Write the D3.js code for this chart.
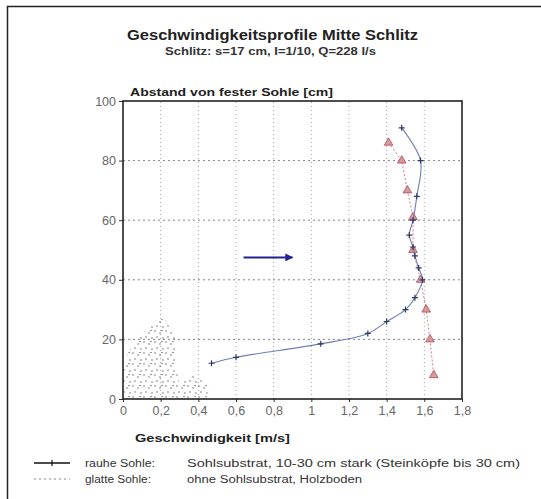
<!DOCTYPE html>
<html>
<head>
<meta charset="utf-8">
<script src="https://cdn.jsdelivr.net/npm/d3@7"></script>
<style>
  html, body { margin: 0; padding: 0; background: #fff; }
  svg { display: block; font-family: "Liberation Sans", Arial, sans-serif; }
</style>
</head>
<body>
<svg id="chart" width="541" height="499"></svg>
<script>
// Messwerte rauhe Sohle: [v in m/s, Abstand in cm]
const rauheV = [0.47, 0.60, 1.05, 1.30, 1.40, 1.50, 1.55, 1.59, 1.57, 1.55, 1.54, 1.52, 1.54, 1.56, 1.58, 1.48];
const rauheH = [12, 14, 18.5, 22, 26, 30, 34, 40, 44, 48, 51, 55, 60, 68, 80, 91];

// Messwerte glatte Sohle
const glattV = [1.41, 1.48, 1.51, 1.54, 1.54, 1.58, 1.61, 1.63, 1.65];
const glattH = [86, 80, 70, 61, 50, 40, 30, 20, 8];

// Steinköpfe (Umriss des Sohlsubstrats)
const stoneV = [0, 0, 0.03, 0.10, 0.20, 0.25, 0.28, 0.28, 0.30, 0.36, 0.42, 0.46, 0.44];
const stoneH = [0, 10, 16, 22, 28, 25, 20, 12, 5, 8, 7, 4, 0];

// Fliessrichtung (Pfeil)
const arrowV = [0.64, 0.90];
const arrowH = 47.5;

const xTicks = [0, 0.2, 0.4, 0.6, 0.8, 1, 1.2, 1.4, 1.6, 1.8];
const yTicks = [0, 20, 40, 60, 80, 100];

const svg = d3.select('#chart');

// helper: text stretched to the width it has in the scan
function label(g, px, py, str, size, width, opts = {}) {
  const t = g.append('text').attr('x', px).attr('y', py)
    .attr('font-size', size).attr('fill', opts.fill || '#222')
    .attr('textLength', width).attr('lengthAdjust', 'spacingAndGlyphs')
    .text(str);
  if (opts.bold) t.attr('font-weight', 'bold');
  if (opts.anchor) t.attr('text-anchor', opts.anchor);
  return t;
}

// outer frame (left + top visible)
svg.append('path')
  .attr('d', 'M7.5,499 V6.5 H541')
  .attr('fill', 'none').attr('stroke', '#222').attr('stroke-width', 1.5);

const x = d3.scaleLinear().domain([0, 1.8]).range([123, 462]);
const y = d3.scaleLinear().domain([0, 100]).range([399, 101]);

const defs = svg.append('defs');
const pat = defs.append('pattern')
  .attr('id', 'stipple').attr('patternUnits', 'userSpaceOnUse')
  .attr('width', 11).attr('height', 11);
[[1, 1], [6, 3], [3, 7], [9, 8], [8, 0.5]].forEach(([px, py]) => {
  pat.append('circle').attr('cx', px).attr('cy', py).attr('r', 0.75).attr('fill', '#666');
});
defs.append('marker')
  .attr('id', 'head').attr('viewBox', '0 0 10 10')
  .attr('refX', 9).attr('refY', 5)
  .attr('markerWidth', 4).attr('markerHeight', 4)
  .attr('orient', 'auto')
  .append('path').attr('d', 'M0,0 L10,5 L0,10 z').attr('fill', '#23238f');

// titles
label(svg, 127, 40, 'Geschwindigkeitsprofile Mitte Schlitz', 14, 291, { bold: true });
label(svg, 165, 55, 'Schlitz: s=17 cm, I=1/10, Q=228 l/s', 10.5, 211, { bold: true, fill: '#333' });
label(svg, 130, 96, 'Abstand von fester Sohle [cm]', 10.5, 203, { bold: true });
label(svg, 135, 442, 'Geschwindigkeit [m/s]', 10.5, 155, { bold: true });

// grid
const grid = svg.append('g');
grid.selectAll('line.vg').data(xTicks.slice(1, -1)).join('line')
  .attr('x1', d => x(d)).attr('x2', d => x(d))
  .attr('y1', y(0)).attr('y2', y(100))
  .attr('stroke', '#888').attr('stroke-width', 0.8).attr('stroke-dasharray', '1,3');
grid.selectAll('line.hg').data(yTicks.slice(1, -1)).join('line')
  .attr('x1', x(0)).attr('x2', x(1.8))
  .attr('y1', d => y(d)).attr('y2', d => y(d))
  .attr('stroke', '#777').attr('stroke-width', 0.9).attr('stroke-dasharray', '2,3');

// stones
const stonePts = stoneV.map((v, i) => [x(v), y(stoneH[i])]);
svg.append('path')
  .attr('d', d3.line().curve(d3.curveLinearClosed)(stonePts))
  .attr('fill', 'url(#stipple)').attr('stroke', 'none');

// axes
const fmt = d => String(d).replace('.', ',');
const xAxis = svg.append('g').attr('transform', `translate(0,${y(0)})`)
  .call(d3.axisBottom(x).tickValues(xTicks).tickFormat(fmt).tickSize(3).tickPadding(4));
const yAxis = svg.append('g').attr('transform', `translate(${x(0)},0)`)
  .call(d3.axisLeft(y).tickValues(yTicks).tickSize(4).tickPadding(3));
[xAxis, yAxis].forEach(a => {
  a.select('.domain').remove();
  a.selectAll('text').attr('font-size', 12.5).attr('fill', '#666')
    .attr('font-family', '"Liberation Sans Narrow", "Liberation Sans", Arial, sans-serif');
  a.selectAll('line').attr('stroke', '#333');
});

svg.append('rect')
  .attr('x', x(0)).attr('y', y(100))
  .attr('width', x(1.8) - x(0)).attr('height', y(0) - y(100))
  .attr('fill', 'none').attr('stroke', '#222').attr('stroke-width', 1.6);

// arrow
svg.append('line')
  .attr('x1', x(arrowV[0])).attr('x2', x(arrowV[1]))
  .attr('y1', y(arrowH)).attr('y2', y(arrowH))
  .attr('stroke', '#23238f').attr('stroke-width', 2)
  .attr('marker-end', 'url(#head)');

// glatte Sohle
const glattPts = glattV.map((v, i) => [x(v), y(glattH[i])]);
svg.append('path')
  .attr('d', d3.line()(glattPts))
  .attr('fill', 'none').attr('stroke', '#e07a90').attr('stroke-width', 1)
  .attr('stroke-dasharray', '2,2');
svg.selectAll('path.tri').data(glattPts).join('path')
  .attr('class', 'tri')
  .attr('transform', d => `translate(${d[0]},${d[1]})`)
  .attr('d', d3.symbol(d3.symbolTriangle, 32))
  .attr('fill', '#d79a9a').attr('stroke', '#b04a5c').attr('stroke-width', 0.8);

// rauhe Sohle
const rauhePts = rauheV.map((v, i) => [x(v), y(rauheH[i])]);
svg.append('path')
  .attr('d', d3.line().curve(d3.curveCatmullRom.alpha(0.5))(rauhePts))
  .attr('fill', 'none').attr('stroke', '#6f7fb5').attr('stroke-width', 1.1);
svg.selectAll('path.cross').data(rauhePts).join('path')
  .attr('class', 'cross')
  .attr('transform', d => `translate(${d[0]},${d[1]})`)
  .attr('d', 'M-3,0 H3 M0,-3 V3')
  .attr('stroke', '#303a60').attr('stroke-width', 1.2);

// legend
const lg = svg.append('g');
lg.append('line').attr('x1', 34).attr('x2', 70).attr('y1', 463).attr('y2', 463)
  .attr('stroke', '#111').attr('stroke-width', 1.3);
lg.append('line').attr('x1', 52).attr('x2', 52).attr('y1', 460).attr('y2', 466)
  .attr('stroke', '#111').attr('stroke-width', 1.2);
lg.append('line').attr('x1', 34).attr('x2', 70).attr('y1', 479).attr('y2', 479)
  .attr('stroke', '#888').attr('stroke-width', 1.2).attr('stroke-dasharray', '2,3');
label(lg, 85, 467, 'rauhe Sohle:', 10, 70, { fill: '#333' });
label(lg, 187, 467, 'Sohlsubstrat, 10-30 cm stark (Steinköpfe bis 30 cm)', 10, 333, { fill: '#333' });
label(lg, 85, 483, 'glatte Sohle:', 10, 66, { fill: '#333' });
label(lg, 187, 483, 'ohne Sohlsubstrat, Holzboden', 10, 175, { fill: '#333' });
</script>
</body>
</html>
